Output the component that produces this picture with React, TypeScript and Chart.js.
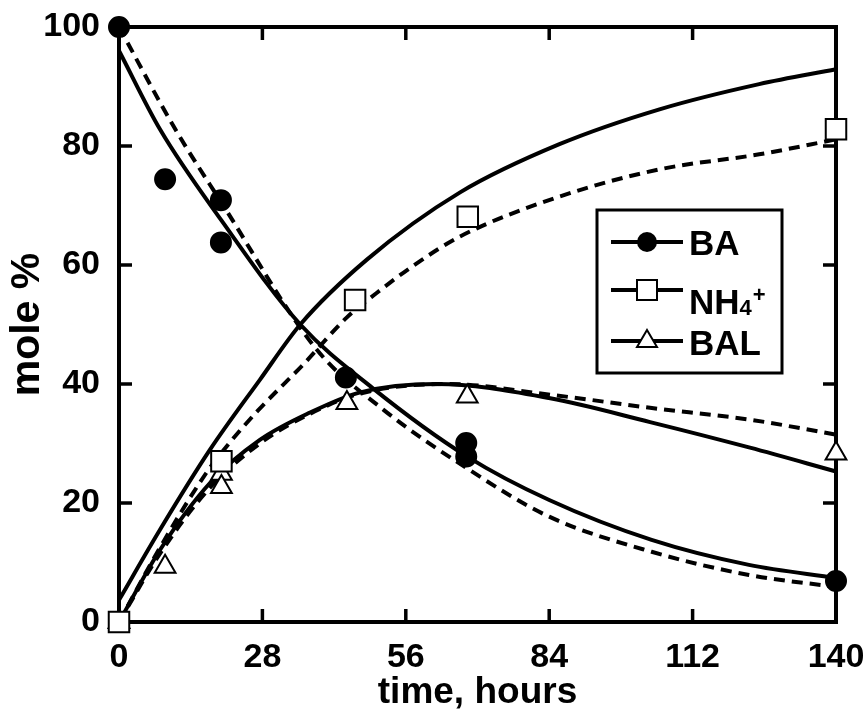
import React, { useEffect, useRef } from "react";
import { Chart, registerables } from "chart.js";

Chart.register(...registerables);

// ---- data ----
const seriesLabels = ["BA", "NH4+", "BAL"];
const xTicks = [0, 28, 56, 84, 112, 140];
const yTicks = [0, 20, 40, 60, 80, 100];

const baPoints = [
  { x: 0, y: 100 }, { x: 9.0, y: 74.4 }, { x: 19.9, y: 70.9 }, { x: 19.9, y: 63.8 },
  { x: 44.3, y: 41.1 }, { x: 67.8, y: 30.1 }, { x: 67.8, y: 27.8 }, { x: 140, y: 6.9 },
];
const nh4Points = [
  { x: 0, y: 0 }, { x: 20.0, y: 27.0 }, { x: 46.1, y: 54.1 }, { x: 68.1, y: 68.1 }, { x: 140, y: 82.8 },
];
const balPoints = [
  { x: 0, y: 0 }, { x: 9.0, y: 9.3 }, { x: 20.0, y: 24.9 }, { x: 20.0, y: 22.7 },
  { x: 44.5, y: 36.8 }, { x: 68.0, y: 37.9 }, { x: 140, y: 28.3 },
];

const baSolid = [
  { x: 0, y: 96 }, { x: 8, y: 82.8 }, { x: 20, y: 67.5 }, { x: 35.4, y: 50 }, { x: 49.4, y: 39.4 },
  { x: 68, y: 27.8 }, { x: 84, y: 20.5 }, { x: 104, y: 13.8 }, { x: 123, y: 9.6 }, { x: 140, y: 7.4 },
];
const baDashed = [
  { x: 0, y: 100 }, { x: 11, y: 82.8 }, { x: 20, y: 70.5 }, { x: 38.6, y: 45.8 }, { x: 51.6, y: 35.7 },
  { x: 68, y: 25.8 }, { x: 84, y: 17.7 }, { x: 104, y: 11.8 }, { x: 123, y: 7.9 }, { x: 140, y: 5.9 },
];
const nh4Solid = [
  { x: 0, y: 3.7 }, { x: 8, y: 15.5 }, { x: 17.8, y: 29 }, { x: 27.5, y: 40.7 }, { x: 35.4, y: 50 },
  { x: 48.4, y: 60.9 }, { x: 66.6, y: 72.2 }, { x: 86, y: 80.3 }, { x: 105.7, y: 86.2 },
  { x: 125, y: 90.4 }, { x: 140, y: 92.9 },
];
const nh4Dashed = [
  { x: 0, y: 0 }, { x: 8, y: 12.5 }, { x: 17, y: 25 }, { x: 21, y: 29.5 }, { x: 27.2, y: 35.6 },
  { x: 36, y: 43.3 }, { x: 44.5, y: 51.2 }, { x: 50.3, y: 55.3 }, { x: 58, y: 60.2 },
  { x: 66.6, y: 64.8 }, { x: 86, y: 71.5 }, { x: 105.7, y: 76.1 }, { x: 125, y: 78.6 }, { x: 140, y: 81.1 },
];
const balSolid = [
  { x: 0, y: 0 }, { x: 8, y: 12.1 }, { x: 17.8, y: 23.4 }, { x: 27.5, y: 30.6 }, { x: 37.3, y: 35.2 },
  { x: 47.1, y: 38.6 }, { x: 62, y: 40 }, { x: 84.2, y: 37.6 }, { x: 103.7, y: 33.6 },
  { x: 123.2, y: 29.3 }, { x: 140, y: 25.3 },
];
const balDashed = [
  { x: 0, y: 0 }, { x: 8, y: 11.5 }, { x: 17.8, y: 22.6 }, { x: 27.5, y: 30 }, { x: 37.3, y: 35 },
  { x: 47.1, y: 38.4 }, { x: 64, y: 40 }, { x: 84.2, y: 38.2 }, { x: 103.7, y: 36 },
  { x: 123.2, y: 34 }, { x: 140, y: 31.5 },
];

const FONT = "'Liberation Sans', Arial, Helvetica, sans-serif";

function drawMarker(ctx: CanvasRenderingContext2D, kind: number, x: number, y: number) {
  ctx.save();
  ctx.lineWidth = 2;
  ctx.strokeStyle = "#000";
  ctx.beginPath();
  if (kind === 0) {
    ctx.arc(x, y, 10, 0, Math.PI * 2);
    ctx.fillStyle = "#000";
    ctx.fill();
  } else if (kind === 1) {
    ctx.rect(x - 10, y - 10, 20, 20);
    ctx.fillStyle = "#fff";
    ctx.fill();
    ctx.stroke();
  } else {
    ctx.moveTo(x, y - 11);
    ctx.lineTo(x + 10, y + 6);
    ctx.lineTo(x - 10, y + 6);
    ctx.closePath();
    ctx.fillStyle = "#fff";
    ctx.fill();
    ctx.stroke();
  }
  ctx.restore();
}

const framePlugin = {
  id: "frameTicks",
  beforeDatasetsDraw(chart: any) {
    const { ctx, chartArea: a, scales } = chart;
    ctx.save();
    ctx.strokeStyle = "#000";
    ctx.lineWidth = 4;
    ctx.strokeRect(a.left, a.top, a.right - a.left, a.bottom - a.top);
    ctx.lineWidth = 3.5;
    const L = 13;
    ctx.beginPath();
    for (const v of xTicks) {
      const px = scales.x.getPixelForValue(v);
      ctx.moveTo(px, a.bottom);
      ctx.lineTo(px, a.bottom - L);
      ctx.moveTo(px, a.top);
      ctx.lineTo(px, a.top + L);
    }
    for (const v of yTicks) {
      const py = scales.y.getPixelForValue(v);
      ctx.moveTo(a.left, py);
      ctx.lineTo(a.left + L, py);
      ctx.moveTo(a.right, py);
      ctx.lineTo(a.right - L, py);
    }
    ctx.stroke();
    ctx.restore();
  },
  afterDatasetsDraw(chart: any) {
    const { ctx } = chart;
    ctx.save();
    // legend box
    ctx.fillStyle = "#fff";
    ctx.fillRect(597, 210, 185, 163);
    ctx.strokeStyle = "#000";
    ctx.lineWidth = 3;
    ctx.strokeRect(597, 210, 185, 163);
    const rows = [242, 290, 341];
    const bases = [255, 314, 355];
    rows.forEach((ry, i) => {
      ctx.lineWidth = 4;
      ctx.beginPath();
      ctx.moveTo(611, ry);
      ctx.lineTo(683, ry);
      ctx.stroke();
      drawMarker(ctx, i, 647, ry);
      ctx.fillStyle = "#000";
      ctx.textBaseline = "alphabetic";
      ctx.textAlign = "left";
      ctx.font = `bold 35px ${FONT}`;
      const label = seriesLabels[i];
      if (label === "NH4+") {
        ctx.fillText("NH", 689, bases[i]);
        const w = ctx.measureText("NH").width;
        ctx.font = `bold 22px ${FONT}`;
        ctx.fillText("4", 689 + w, bases[i] + 1);
        const w2 = ctx.measureText("4").width;
        ctx.fillText("+", 689 + w + w2 + 1, bases[i] - 12);
      } else {
        ctx.fillText(label, 689, bases[i]);
      }
    });
    ctx.restore();
  },
};

const pointDs = (label: string, data: any[], style: string, radius: number, fill: string) => ({
  type: "scatter" as const,
  label,
  data,
  showLine: false,
  pointStyle: style,
  pointRadius: radius,
  pointBackgroundColor: fill,
  pointBorderColor: "#000",
  pointBorderWidth: 2,
  borderColor: "#000",
  backgroundColor: fill,
  clip: false,
  order: 0,
});

const curveDs = (data: any[], dashed: boolean) => ({
  type: "line" as const,
  label: "",
  data,
  borderColor: "#000",
  borderWidth: 4,
  borderDash: dashed ? [11, 7] : [],
  pointRadius: 0,
  fill: false,
  cubicInterpolationMode: "monotone" as const,
  clip: false,
  order: 1,
});

const zeroPad = (s: any) => {
  s.paddingTop = 0;
  s.paddingBottom = 0;
  s.paddingLeft = 0;
  s.paddingRight = 0;
};

export default function App() {
  const ref = useRef<HTMLCanvasElement | null>(null);
  useEffect(() => {
    if (!ref.current) return;
    const chart = new Chart(ref.current, {
      type: "scatter",
      data: {
        datasets: [
          curveDs(baSolid, false),
          curveDs(baDashed, true),
          curveDs(nh4Solid, false),
          curveDs(nh4Dashed, true),
          curveDs(balSolid, false),
          curveDs(balDashed, true),
          pointDs(seriesLabels[0], baPoints, "circle", 10, "#000"),
          pointDs(seriesLabels[1], nh4Points, "rect", 14.5, "#fff"),
          pointDs(seriesLabels[2], balPoints, "triangle", 12, "#fff"),
        ] as any,
      },
      options: {
        animation: false,
        responsive: false,
        layout: { autoPadding: false, padding: { top: 27, right: 29, left: 0, bottom: 0 } },
        plugins: { legend: { display: false }, tooltip: { enabled: false } },
        scales: {
          x: {
            type: "linear",
            min: 0,
            max: 140,
            afterBuildTicks: (s: any) => { s.ticks = xTicks.map((v) => ({ value: v })); },
            afterFit: (s: any) => { s.height = 95; zeroPad(s); },
            grid: { display: false, drawTicks: false },
            border: { display: false },
            ticks: { color: "#000", padding: 15, font: { family: FONT, size: 34, weight: "bold" }, maxRotation: 0 },
            title: { display: true, text: "time, hours", color: "#000", padding: { top: 0, bottom: 2 }, font: { family: FONT, size: 37, weight: "bold" } },
          },
          y: {
            type: "linear",
            min: 0,
            max: 100,
            afterBuildTicks: (s: any) => { s.ticks = yTicks.map((v) => ({ value: v })); },
            afterFit: (s: any) => { s.width = 119; zeroPad(s); },
            grid: { display: false, drawTicks: false },
            border: { display: false },
            ticks: { color: "#000", padding: 19, font: { family: FONT, size: 34, weight: "bold" } },
            title: { display: true, text: "mole %", color: "#000", padding: { top: 3, bottom: 0 }, font: { family: FONT, size: 41, weight: "bold" } },
          },
        },
      },
      plugins: [framePlugin],
    });
    return () => chart.destroy();
  }, []);
  return (
    <div style={{ position: "fixed", left: 0, top: 0, width: 865, height: 717, background: "#fff" }}>
      <canvas ref={ref} width={865} height={717} style={{ width: 865, height: 717, display: "block" }} />
    </div>
  );
}
